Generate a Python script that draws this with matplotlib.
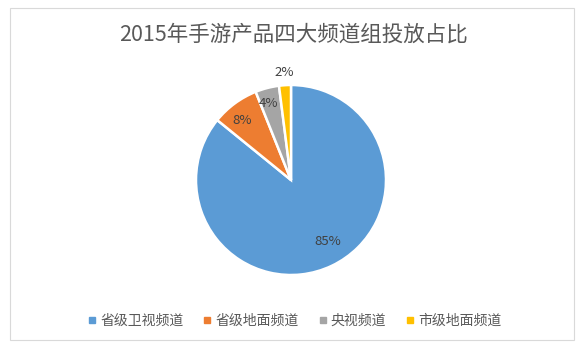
import matplotlib
matplotlib.use('Agg')
import matplotlib.pyplot as plt
import numpy as np
from matplotlib.patches import Rectangle
from matplotlib.lines import Line2D

plt.rcParams['font.family'] = ['Noto Sans CJK SC', 'DejaVu Sans']

# --- Data ---
title = '2015年手游产品四大频道组投放占比'
channels = ['省级卫视频道', '省级地面频道', '央视频道', '市级地面频道']
shares = [85, 8, 4, 2]
colors = ['#5B9BD5', '#ED7D31', '#A5A5A5', '#FFC000']
label_color = '#404040'

fig = plt.figure(figsize=(5.86, 3.51), dpi=100)
fig.patch.set_facecolor('white')

# chart border
fig.patches.append(Rectangle((10 / 586, 11 / 351), 564 / 586, 332 / 351,
                             transform=fig.transFigure, fill=False,
                             edgecolor='#D9D9D9', linewidth=0.8))

fig.text(0.5, 1 - 35 / 351, title, ha='center', va='center',
         fontsize=15.5, color='#595959')

# --- Pie ---
r = 95
cx, cy = 291, 180
ax = fig.add_axes([(cx - r) / 586, 1 - (cy + r) / 351, 2 * r / 586, 2 * r / 351])
wedges, _ = ax.pie(shares, colors=colors, startangle=90, counterclock=False,
                   wedgeprops=dict(edgecolor='white', linewidth=1.8))
ax.set_aspect('equal')
ax.set_xlim(-1, 1)
ax.set_ylim(-1, 1)

# label placement: radius fraction and angle shift (deg) per slice
label_r = [0.76, 0.81, 0.84, 1.13]
label_shift = [5.5, 2.6, 1.5, 0]
for w, s, lr, sh in zip(wedges, shares, label_r, label_shift):
    ang = np.deg2rad((w.theta1 + w.theta2) / 2 + sh)
    ax.text(lr * np.cos(ang), lr * np.sin(ang), f'{s}%', ha='center',
            va='center', fontsize=9.5, color=label_color)

# --- Legend ---
handles = [Line2D([], [], marker='s', linestyle='', markersize=5,
                  markerfacecolor=c, markeredgecolor=c) for c in colors]
fig.legend(handles, channels, loc='center', ncol=4,
           bbox_to_anchor=(0.503, 1 - 321 / 351), frameon=False,
           fontsize=10, handlelength=0.6, handletextpad=0.3,
           columnspacing=1.4, labelcolor='#595959')

fig.savefig('out.png', dpi=100)
